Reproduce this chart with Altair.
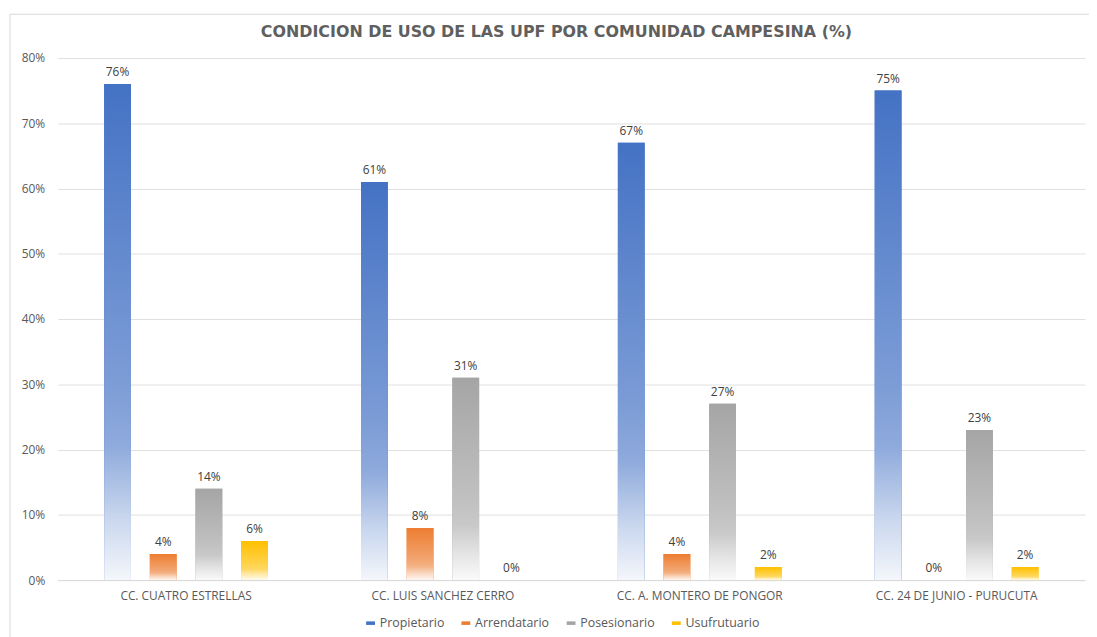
import altair as alt
import pandas as pd

communities = ["CC. CUATRO ESTRELLAS", "CC. LUIS SANCHEZ CERRO",
               "CC. A. MONTERO DE PONGOR", "CC. 24 DE JUNIO - PURUCUTA"]
series = ["Propietario", "Arrendatario", "Posesionario", "Usufrutuario"]
propietario = [76, 61, 67, 75]
arrendatario = [4, 8, 4, 0]
posesionario = [14, 31, 27, 23]
usufrutuario = [6, 0, 2, 2]
y_ticks = [0, 10, 20, 30, 40, 50, 60, 70, 80]

colors = ["#4472C4", "#ED7D31", "#A5A5A5", "#FFC000"]
FONT = "Open Sans"
TXT = "#595959"

rows = []
for s, vals in zip(series, [propietario, arrendatario, posesionario, usufrutuario]):
    for c, v in zip(communities, vals):
        rows.append({"comunidad": c, "condicion": s, "valor": v})
df = pd.DataFrame(rows)


def tint(h, t):
    r, g, b = int(h[1:3], 16), int(h[3:5], 16), int(h[5:7], 16)
    return "#%02x%02x%02x" % (round(r + (255 - r) * t), round(g + (255 - g) * t), round(b + (255 - b) * t))


def gradient(h):
    return alt.LinearGradient(
        gradient="linear", x1=0, x2=0, y1=0, y2=1,
        stops=[
            alt.GradientStop(color=h, offset=0),
            alt.GradientStop(color=tint(h, 0.3), offset=0.6),
            alt.GradientStop(color=tint(h, 0.4), offset=0.73),
            alt.GradientStop(color=tint(h, 0.7), offset=0.87),
            alt.GradientStop(color=tint(h, 0.94), offset=1),
        ],
    )


x_enc = alt.X("comunidad:N", sort=communities,
              scale=alt.Scale(paddingInner=0.1845, paddingOuter=0.0922),
              axis=alt.Axis(title=None, labelAngle=0, ticks=False, domain=True,
                            domainColor="#d9d9d9", labelPadding=11, labelFontSize=12,
                            labelFont=FONT, labelColor=TXT, grid=False))
xo_enc = alt.XOffset("condicion:N", sort=series,
                     scale=alt.Scale(domain=series, paddingInner=0.413, paddingOuter=0.5))
y_enc = alt.Y("valor:Q", scale=alt.Scale(domain=[0, 80], nice=False),
              axis=alt.Axis(values=y_ticks, labelExpr="datum.value + '%'", title=None,
                            domain=False, ticks=False, gridColor="#e0e0e0", labelPadding=13,
                            labelFontSize=12, labelFont=FONT, labelColor=TXT))

frame = pd.DataFrame({"b": [0]})
border_top = alt.Chart(frame).mark_rule(color="#d9d9d9", strokeWidth=1).encode(
    x=alt.value(-48), x2=alt.value(1100), y=alt.value(-44))
border_left = alt.Chart(frame).mark_rule(color="#d9d9d9", strokeWidth=1).encode(
    x=alt.value(-48), y=alt.value(-44), y2=alt.value(620))

base = alt.Chart(df).mark_bar().encode(
    x=x_enc, xOffset=xo_enc, y=y_enc,
    color=alt.Color("condicion:N", sort=series,
                    scale=alt.Scale(domain=series, range=colors),
                    legend=alt.Legend(title=None, orient="none", direction="horizontal",
                                      legendX=309, legendY=563, padding=0,
                                      symbolType="M-1,-0.4H1V0.4H-1Z", symbolSize=80,
                                      symbolStrokeWidth=0, labelOffset=3, columnPadding=15,
                                      labelFontSize=12.5, labelFont=FONT, labelColor=TXT)),
)

layers = [border_top, border_left, base]
for s, col in zip(series, colors):
    layers.append(
        alt.Chart(df).transform_filter(alt.datum.condicion == s)
        .mark_bar(color=gradient(col))
        .encode(x=x_enc, xOffset=xo_enc, y=y_enc)
    )

labels = alt.Chart(df).transform_calculate(
    label="datum.valor + '%'"
).mark_text(dy=-12, fontSize=12, font=FONT, color="#404040").encode(
    x=x_enc, xOffset=xo_enc, y=y_enc, text="label:N"
)
layers.append(labels)

chart = alt.layer(*layers).properties(
    width=1035, height=526,
    autosize=alt.AutoSizeParams(type="none"),
    padding={"left": 50, "top": 48, "right": 4, "bottom": 55},
    title=alt.Title("CONDICION DE USO DE LAS UPF POR COMUNIDAD CAMPESINA (%)",
                    fontSize=16, font="DejaVu Sans", fontWeight="bold", color="#5f5f5f",
                    anchor="middle", frame="group", offset=-26, dx=-15),
).configure_view(strokeWidth=0)

chart.save("out.html", embed_options={"renderer": "svg", "actions": False})
